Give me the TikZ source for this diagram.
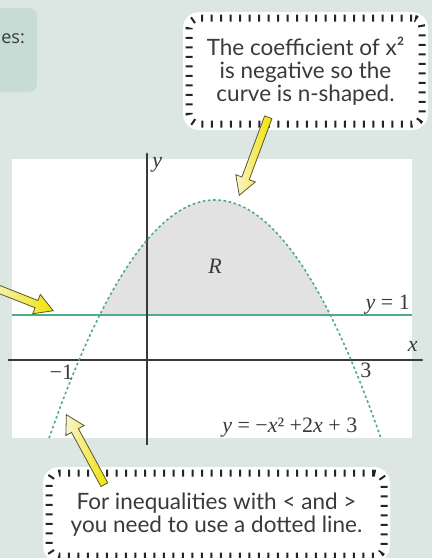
\documentclass[tikz,border=0pt]{standalone}
\usepackage{fontspec}
\setmainfont{Liberation Serif}
\newfontfamily\notefont{Lato}
\newfontfamily\tagfont{Open Sans}
\usetikzlibrary{arrows.meta,positioning,calc,shapes.arrows}
\definecolor{bgpale}{HTML}{DCE7E3}
\definecolor{tagfill}{HTML}{C7DCD5}
\definecolor{seagreen}{HTML}{4FAA8E}
\definecolor{regiongrey}{HTML}{E2E2E2}
\definecolor{ink}{HTML}{3A3A3A}
\definecolor{cream}{HTML}{F8F5D2}
\definecolor{lemon}{HTML}{F2E200}
\definecolor{olive}{HTML}{5B5632}
\tikzset{callout/.style={fill=white,draw=ink!60!black,line width=7pt,dash pattern=on 2pt off 7.5pt,rounded corners=10pt,preaction={draw=white,line width=12pt,solid},align=center,font=\notefont\fontsize{22.5}{23}\selectfont,text=ink,inner sep=0pt},hint/.style={single arrow,draw=olive,line width=0.8pt,left color=cream,right color=lemon,single arrow head extend=6.5pt,single arrow tip angle=60,minimum width=0pt,inner sep=3.5pt},axis/.style={draw=ink,line width=1.4pt,-{Latex[length=3pt,width=3pt]}},curve/.style={draw=seagreen,line width=1.6pt,dash pattern=on 2.6pt off 2.6pt},yline/.style={draw=seagreen,line width=1.6pt},lbl/.style={font=\fontsize{22}{24}\selectfont,text=ink,inner sep=1pt}}
\newcommand\hintarrow[2]{\path let \p1=($(#2)-(#1)$),\n1={atan2(\y1,\x1)},\n2={veclen(\x1,\y1)} in node[hint,rotate=\n1,minimum height=\n2,anchor=tip] at (#2) {};}

\begin{document}
\begin{tikzpicture}[x=1pt,y=-1pt]
\useasboundingbox (0,0) rectangle (432,558);
\fill[bgpale] (0,0) rectangle (432,558);
% cut-off key box
\fill[tagfill,rounded corners=8pt] (-20,8) rectangle (37,92);
\node[anchor=east,font=\tagfont\fontsize{18}{20}\selectfont,text=ink,inner sep=0pt] (key) at (25,39) {es:};
% graph
\begin{scope}[shift={(147,360)},x=68pt,y=40pt]
\fill[white] (-1.985,-1.95) rectangle (3.897,5.025);
\fill[regiongrey] plot[domain=-0.697:2.697,samples=60] (\x,{4-(\x-1)^2}) -- cycle;
\draw[yline] (-1.985,1.12) -- (3.897,1.12);
\draw[axis] (-2.04,0) -- (4.07,0);
\draw[axis] (0,-2.125) -- (0,5.2);
\draw[curve] plot[domain=-1.44:3.44,samples=80] (\x,{4-(\x-1)^2});
\node[lbl] (ylab) at (0.15,4.875) {\textit{y}};
\node[lbl] (xlab) at (3.91,0.33) {\textit{x}};
\node[lbl] (root1) at (-1.26,-0.3) {−1};
\node[lbl] (root2) at (3.22,-0.25) {3};
\node[lbl] (level) at (3.54,1.375) {\textit{y} = 1};
\node[lbl] (region) at (1,2.35) {\textit{R}};
\node[lbl] (eqn) at (2.1,-1.7) {\textit{y} = −\textit{x}² +2\textit{x} + 3};
\end{scope}
% notes
\node[callout,minimum width=233pt,minimum height=106pt] (coef) at (305.5,71) {The coefficient of x²\\is negative so the\\curve is n-shaped.};
\node[callout,minimum width=335pt,minimum height=83pt] (dots) at (216.5,514.5) {For inequalities with < and >\\you need to use a dotted line.};
\coordinate (peakTail) at (268,118);
\coordinate (peakTip) at (239,196);
\coordinate (lineTail) at (-12,285);
\coordinate (lineTip) at (54,311);
\coordinate (dotTail) at (104,484);
\coordinate (dotTip) at (66,414);
\hintarrow{peakTail}{peakTip}
\hintarrow{lineTail}{lineTip}
\hintarrow{dotTail}{dotTip}
\end{tikzpicture}
\end{document}
